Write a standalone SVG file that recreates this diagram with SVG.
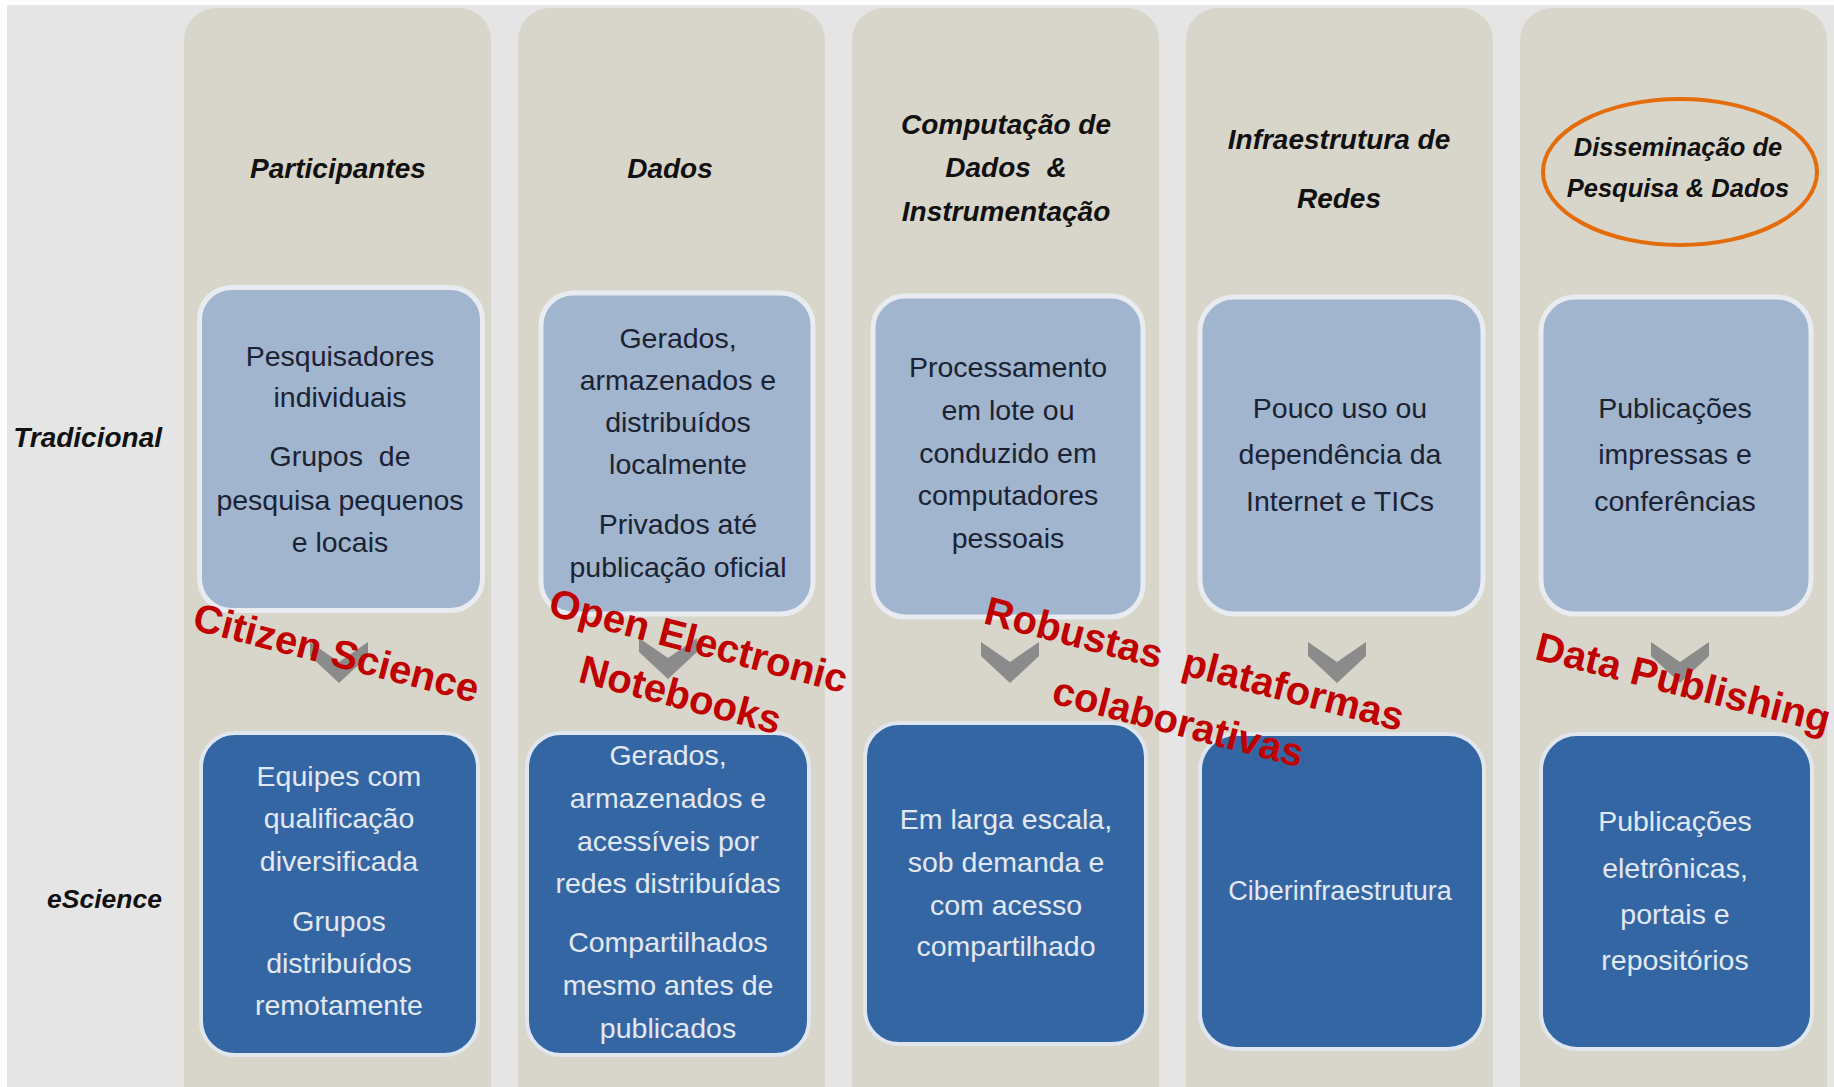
<svg xmlns="http://www.w3.org/2000/svg" width="1834" height="1087" viewBox="0 0 1834 1087">
<defs>
<style>
.col{fill:#d8d5ca}
.up{fill:#a1b5ce;stroke:#e8ebef;stroke-width:5}
.lo{fill:#3566a4;stroke:#dfe6ee;stroke-width:4}
.hd{font-family:"Liberation Sans",Arial,sans-serif;font-weight:bold;font-style:italic;font-size:28px;fill:#111;text-anchor:middle}
.row{font-family:"Liberation Sans",Arial,sans-serif;font-weight:bold;font-style:italic;font-size:28px;fill:#111;text-anchor:end}
.tu{font-family:"Liberation Sans",Arial,sans-serif;font-size:28.5px;fill:#1b2233;text-anchor:middle}
.tl{font-family:"Liberation Sans",Arial,sans-serif;font-size:28.5px;fill:#e2e8f1;text-anchor:middle}
.red{font-family:"Liberation Sans",Arial,sans-serif;font-weight:bold;font-size:40px;fill:#c00000;text-anchor:middle}
.chev{fill:#8b8b8b}
</style>
</defs>
<rect x="0" y="0" width="1834" height="1087" fill="#ffffff"/>
<rect x="7" y="5" width="1827" height="1082" fill="#e5e5e5"/>

<g id="row-labels">
<text class="row" x="162" y="447">Tradicional</text>
<text class="row" x="162" y="908" style="font-size:26.5px">eScience</text>
</g>

<g id="col-participantes">
<rect class="col" x="184" y="8" width="307" height="1110" rx="32"/>
<text class="hd" x="338" y="178">Participantes</text>
</g>
<g id="col-dados">
<rect class="col" x="518" y="8" width="307" height="1110" rx="32"/>
<text class="hd" x="670" y="178">Dados</text>
</g>
<g id="col-computacao">
<rect class="col" x="852" y="8" width="307" height="1110" rx="32"/>
<text class="hd" x="1006" y="134">Computação de</text>
<text class="hd" x="1006" y="177" xml:space="preserve">Dados  &amp;</text>
<text class="hd" x="1006" y="221">Instrumentação</text>
</g>
<g id="col-infraestrutura">
<rect class="col" x="1186" y="8" width="307" height="1110" rx="32"/>
<text class="hd" x="1339" y="149">Infraestrutura de</text>
<text class="hd" x="1339" y="208">Redes</text>
</g>
<g id="col-disseminacao">
<rect class="col" x="1520" y="8" width="307" height="1110" rx="32"/>
<text class="hd" x="1678" y="156" style="font-size:25.5px">Disseminação de</text>
<text class="hd" x="1678" y="197" style="font-size:25.5px">Pesquisa &amp; Dados</text>
<ellipse cx="1680" cy="172" rx="137" ry="73" fill="none" stroke="#e46c0a" stroke-width="4"/>
</g>

<g id="trad-participantes">
<rect class="up" x="199.5" y="287.5" width="283" height="323" rx="32"/>
<text class="tu" x="340" y="366">Pesquisadores</text>
<text class="tu" x="340" y="407">individuais</text>
<text class="tu" x="340" y="466" xml:space="preserve">Grupos  de</text>
<text class="tu" x="340" y="510">pesquisa pequenos</text>
<text class="tu" x="340" y="552">e locais</text>
</g>
<g id="trad-dados">
<rect class="up" x="541" y="293" width="272" height="321" rx="32"/>
<text class="tu" x="678" y="348">Gerados,</text>
<text class="tu" x="678" y="390">armazenados e</text>
<text class="tu" x="678" y="432">distribuídos</text>
<text class="tu" x="678" y="474">localmente</text>
<text class="tu" x="678" y="534">Privados até</text>
<text class="tu" x="678" y="577">publicação oficial</text>
</g>
<g id="trad-computacao">
<rect class="up" x="873" y="296" width="270" height="321" rx="32"/>
<text class="tu" x="1008" y="377">Processamento</text>
<text class="tu" x="1008" y="420">em lote ou</text>
<text class="tu" x="1008" y="463">conduzido em</text>
<text class="tu" x="1008" y="505">computadores</text>
<text class="tu" x="1008" y="548">pessoais</text>
</g>
<g id="trad-infraestrutura">
<rect class="up" x="1200" y="297" width="283" height="317" rx="34"/>
<text class="tu" x="1340" y="418">Pouco uso ou</text>
<text class="tu" x="1340" y="464">dependência da</text>
<text class="tu" x="1340" y="511">Internet e TICs</text>
</g>
<g id="trad-disseminacao">
<rect class="up" x="1541" y="297" width="270" height="317" rx="34"/>
<text class="tu" x="1675" y="418">Publicações</text>
<text class="tu" x="1675" y="464">impressas e</text>
<text class="tu" x="1675" y="511">conferências</text>
</g>

<g id="connectors">
<polygon class="chev" points="310,642 339,662 368,642 368,656 339,683 310,656"/>
<polygon class="chev" points="639,638 668,658 697,638 697,652 668,679 639,652"/>
<polygon class="chev" points="981,642 1010,662 1039,642 1039,656 1010,683 981,656"/>
<polygon class="chev" points="1308,642 1337,662 1366,642 1366,656 1337,683 1308,656"/>
<polygon class="chev" points="1651,642 1680,662 1709,642 1709,656 1680,683 1651,656"/>
</g>

<g id="esc-participantes">
<rect class="lo" x="201" y="733" width="277" height="322" rx="34"/>
<text class="tl" x="339" y="786">Equipes com</text>
<text class="tl" x="339" y="828">qualificação</text>
<text class="tl" x="339" y="871">diversificada</text>
<text class="tl" x="339" y="931">Grupos</text>
<text class="tl" x="339" y="973">distribuídos</text>
<text class="tl" x="339" y="1015">remotamente</text>
</g>
<g id="esc-dados">
<rect class="lo" x="527" y="733" width="282" height="322" rx="34"/>
<text class="tl" x="668" y="765">Gerados,</text>
<text class="tl" x="668" y="808">armazenados e</text>
<text class="tl" x="668" y="851">acessíveis por</text>
<text class="tl" x="668" y="893">redes distribuídas</text>
<text class="tl" x="668" y="952">Compartilhados</text>
<text class="tl" x="668" y="995">mesmo antes de</text>
<text class="tl" x="668" y="1038">publicados</text>
</g>
<g id="esc-computacao">
<rect class="lo" x="865" y="723" width="281" height="321" rx="34"/>
<text class="tl" x="1006" y="829">Em larga escala,</text>
<text class="tl" x="1006" y="872">sob demanda e</text>
<text class="tl" x="1006" y="915">com acesso</text>
<text class="tl" x="1006" y="956">compartilhado</text>
</g>
<g id="esc-infraestrutura">
<rect class="lo" x="1200" y="734" width="284" height="315" rx="36"/>
<text class="tl" x="1340" y="900" style="font-size:27px">Ciberinfraestrutura</text>
</g>
<g id="esc-disseminacao">
<rect class="lo" x="1541" y="734" width="271" height="315" rx="36"/>
<text class="tl" x="1675" y="831">Publicações</text>
<text class="tl" x="1675" y="878">eletrônicas,</text>
<text class="tl" x="1675" y="924">portais e</text>
<text class="tl" x="1675" y="970">repositórios</text>
</g>

<g id="labels">
<text class="red" x="333" y="666" transform="rotate(14.5 333 666)">Citizen Science</text>
<text class="red" x="695" y="654" transform="rotate(14.8 695 654)">Open Electronic</text>
<text class="red" x="677" y="708" transform="rotate(14.8 677 708)">Notebooks</text>
<text class="red" x="1191" y="677" transform="rotate(14.5 1191 677)" xml:space="preserve">Robustas  plataformas</text>
<text class="red" x="1175" y="735" transform="rotate(14.5 1175 735)">colaborativas</text>
<text class="red" x="1680" y="696" transform="rotate(14.3 1680 696)">Data Publishing</text>
</g>
</svg>
